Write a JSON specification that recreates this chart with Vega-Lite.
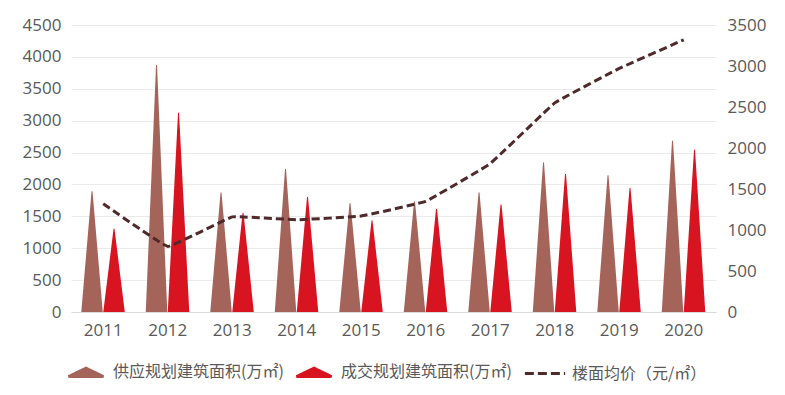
{
  "$schema": "https://vega.github.io/schema/vega-lite/v6.json",
  "width": 645,
  "height": 287,
  "autosize": {"type": "none"},
  "padding": {"left": 71, "top": 25, "right": 69, "bottom": 83},
  "background": "white",
  "config": {"view": {"stroke": null}, "font": "Open Sans"},
  "datasets": {
    "area": [
      {"year": 2011, "series": "供应规划建筑面积(万㎡)", "value": 1890},
      {"year": 2012, "series": "供应规划建筑面积(万㎡)", "value": 3870},
      {"year": 2013, "series": "供应规划建筑面积(万㎡)", "value": 1870},
      {"year": 2014, "series": "供应规划建筑面积(万㎡)", "value": 2240},
      {"year": 2015, "series": "供应规划建筑面积(万㎡)", "value": 1700},
      {"year": 2016, "series": "供应规划建筑面积(万㎡)", "value": 1730},
      {"year": 2017, "series": "供应规划建筑面积(万㎡)", "value": 1870},
      {"year": 2018, "series": "供应规划建筑面积(万㎡)", "value": 2340},
      {"year": 2019, "series": "供应规划建筑面积(万㎡)", "value": 2140},
      {"year": 2020, "series": "供应规划建筑面积(万㎡)", "value": 2680},
      {"year": 2011, "series": "成交规划建筑面积(万㎡)", "value": 1300},
      {"year": 2012, "series": "成交规划建筑面积(万㎡)", "value": 3120},
      {"year": 2013, "series": "成交规划建筑面积(万㎡)", "value": 1550},
      {"year": 2014, "series": "成交规划建筑面积(万㎡)", "value": 1800},
      {"year": 2015, "series": "成交规划建筑面积(万㎡)", "value": 1430},
      {"year": 2016, "series": "成交规划建筑面积(万㎡)", "value": 1610},
      {"year": 2017, "series": "成交规划建筑面积(万㎡)", "value": 1680},
      {"year": 2018, "series": "成交规划建筑面积(万㎡)", "value": 2160},
      {"year": 2019, "series": "成交规划建筑面积(万㎡)", "value": 1940},
      {"year": 2020, "series": "成交规划建筑面积(万㎡)", "value": 2540}
    ],
    "price": [
      {"year": 2011, "price": 1320},
      {"year": 2012, "price": 800},
      {"year": 2013, "price": 1160},
      {"year": 2014, "price": 1125},
      {"year": 2015, "price": 1170},
      {"year": 2016, "price": 1350},
      {"year": 2017, "price": 1810},
      {"year": 2018, "price": 2550},
      {"year": 2019, "price": 2970},
      {"year": 2020, "price": 3320}
    ]
  },
  "layer": [
    {
      "data": {"name": "area"},
      "transform": [
        {"joinaggregate": [{"op": "missing", "field": "value", "as": "base"}]},
        {"fold": ["value", "base"], "as": ["end", "h"]}
      ],
      "encoding": {
        "y": {
          "field": "h", "type": "quantitative",
          "scale": {"domain": [0, 4500], "nice": false, "zero": true},
          "axis": {
            "title": null, "values": [0, 500, 1000, 1500, 2000, 2500, 3000, 3500, 4000, 4500], "format": "d",
            "ticks": false, "domain": false, "gridColor": "#EBEBEB", "gridWidth": 1,
            "labelFontSize": 17, "labelColor": "#595959", "labelPadding": 10, "labelFont": "Open Sans"
          }
        },
        "size": {"condition": {"test": "datum.end === 'base'", "value": 21.5}, "value": 0},
        "order": {"field": "h", "type": "quantitative"},
        "detail": {"field": "year", "type": "ordinal"},
        "color": {
          "field": "series", "type": "nominal",
          "scale": {
            "domain": ["供应规划建筑面积(万㎡)", "成交规划建筑面积(万㎡)", "楼面均价（元/㎡）"],
            "range": ["#A5645A", "#D7141F", "#4F2A2A"]
          },
          "legend": {
            "orient": "none", "legendX": -4, "legendY": 328, "direction": "horizontal", "title": null,
            "symbolSize": 1225, "labelFontSize": 16, "labelFont": "Noto Sans CJK SC", "labelColor": "#595959",
            "labelOffset": 8, "columnPadding": 6, "padding": 0, "labelLimit": 400,
            "encode": {
              "symbols": {
                "update": {
                  "shape": {"signal": "datum.value === '楼面均价（元/㎡）' ? 'M-1.15,0L1.15,0' : 'M-1,0.24L0,-0.24L1,0.24Z'"},
                  "fill": {"signal": "datum.value === '楼面均价（元/㎡）' ? 'transparent' : scale('color', datum.value)"},
                  "stroke": {"signal": "datum.value === '楼面均价（元/㎡）' ? '#4F2A2A' : 'transparent'"},
                  "strokeWidth": {"value": 3},
                  "strokeDash": {"signal": "datum.value === '楼面均价（元/㎡）' ? [9, 4] : [1, 0]"},
                  "opacity": {"value": 1}
                }
              }
            }
          }
        }
      },
      "layer": [
        {
          "transform": [{"filter": "datum.series === '供应规划建筑面积(万㎡)'"}],
          "mark": {"type": "trail", "clip": true},
          "encoding": {
            "x": {
              "field": "year", "type": "ordinal", "bandPosition": 0.326,
              "scale": {"type": "band", "paddingInner": 0, "paddingOuter": 0},
              "axis": {
                "title": null, "labelAngle": 0, "ticks": false, "domainColor": "#D9D9D9",
                "labelFontSize": 17, "labelColor": "#595959", "labelPadding": 10, "labelFont": "Open Sans"
              }
            }
          }
        },
        {
          "transform": [{"filter": "datum.series === '成交规划建筑面积(万㎡)'"}],
          "mark": {"type": "trail", "clip": true},
          "encoding": {
            "x": {"field": "year", "type": "ordinal", "bandPosition": 0.667}
          }
        }
      ]
    },
    {
      "data": {"name": "price"},
      "mark": {"type": "line", "strokeDash": [8, 4], "strokeWidth": 3, "interpolate": "cardinal", "tension": 0.8},
      "encoding": {
        "x": {"field": "year", "type": "ordinal"},
        "y": {
          "field": "price", "type": "quantitative",
          "scale": {"domain": [0, 3500], "nice": false},
          "axis": {
            "orient": "right", "title": null, "values": [0, 500, 1000, 1500, 2000, 2500, 3000, 3500], "format": "d",
            "ticks": false, "domain": false, "grid": false,
            "labelFontSize": 17, "labelColor": "#595959", "labelPadding": 11, "labelFont": "Open Sans"
          }
        },
        "color": {
          "datum": "楼面均价（元/㎡）", "type": "nominal",
          "scale": {
            "domain": ["供应规划建筑面积(万㎡)", "成交规划建筑面积(万㎡)", "楼面均价（元/㎡）"],
            "range": ["#A5645A", "#D7141F", "#4F2A2A"]
          }
        }
      }
    }
  ],
  "resolve": {"scale": {"y": "independent"}}
}
